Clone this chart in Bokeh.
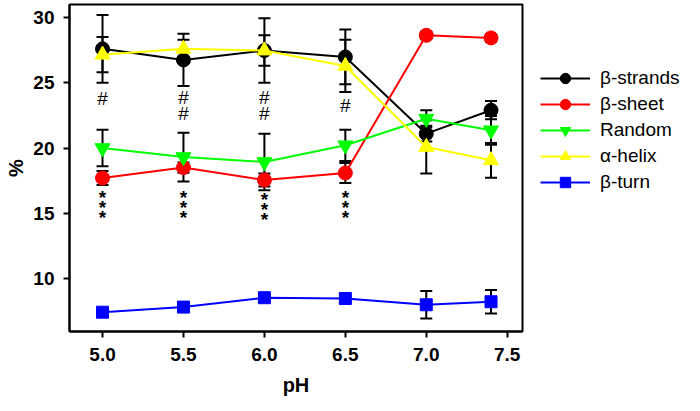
import math
from bokeh.plotting import figure
from bokeh.models import (Range1d, FixedTicker, Whisker, ColumnDataSource, Legend,
                          LegendItem, TeeHead, NumeralTickFormatter)
from bokeh.core.properties import value
from bokeh.embed import file_html
from bokeh.resources import INLINE

# ---- data ----
ph = [5.0, 5.5, 6.0, 6.5, 7.0, 7.4]
strands = [27.6, 26.75, 27.47, 26.98, 21.1, 22.9]
strands_err = [2.6, 2.0, 2.47, 2.1, 0.6, 0.7]
sheet = [17.7, 18.5, 17.55, 18.09, 28.64, 28.44]
sheet_err = [0.54, 0.4, 0.5, 0.77, 0.3, 0.3]
random_coil = [20.0, 19.31, 18.93, 20.21, 22.25, 21.36]
random_err = [1.4, 1.87, 2.17, 1.2, 0.65, 1.1]
helix = [27.15, 27.6, 27.47, 26.29, 20.08, 19.06]
helix_err = [1.35, 0.7, 1.17, 2.0, 2.04, 1.33]
turn = [7.42, 7.81, 8.53, 8.47, 7.99, 8.22]
turn_err = [0.3, 0.3, 0.3, 0.3, 1.05, 0.9]

names = ["β-strands", "β-sheet", "Random", "α-helix", "β-turn"]
colors = ["#000000", "#FF0000", "#00FF00", "#FFFF00", "#0000FF"]
markers = ["circle", "circle", "inverted_triangle", "triangle", "square"]
sizes = [14, 14, 15, 15, 12]

x_ticks = [5.0, 5.5, 6.0, 6.5, 7.0, 7.5]
y_ticks = [10, 15, 20, 25, 30]

hash_x = [5.0, 5.5, 5.5, 6.0, 6.0, 6.5]
hash_y = [23.8, 23.9, 22.65, 23.9, 22.65, 23.27]
star_x = [5.0, 5.0, 5.0, 5.5, 5.5, 5.5, 6.0, 6.0, 6.0, 6.5, 6.5, 6.5]
star_y = [16.5, 15.74, 14.97, 16.5, 15.74, 14.97, 16.37, 15.6, 14.84, 16.5, 15.74, 14.97]

FONT = "Liberation Sans"

p = figure(width=684, height=395, frame_width=453, frame_height=327,
           output_backend="svg", toolbar_location=None,
           x_range=Range1d(4.796, 7.5945), y_range=Range1d(5.94, 31.0),
           min_border_left=69, min_border_right=162, min_border_top=4, min_border_bottom=64)
p.xgrid.visible = False
p.ygrid.visible = False
p.outline_line_color = "black"
p.outline_line_width = 2
p.background_fill_color = "white"
p.border_fill_color = "white"

for ax in (p.xaxis[0], p.yaxis[0]):
    ax.axis_line_width = 2
    ax.axis_line_color = "black"
    ax.major_tick_line_width = 2
    ax.major_tick_line_color = "black"
    ax.major_tick_out = 6
    ax.major_tick_in = 0
    ax.minor_tick_out = 0
    ax.minor_tick_in = 0
    ax.minor_tick_line_color = None
    ax.major_label_text_font = FONT
    ax.major_label_text_font_style = "bold"
    ax.major_label_text_font_size = "19px"
    ax.major_label_text_color = "black"
    ax.axis_label_text_font = FONT
    ax.axis_label_text_font_style = "bold"
    ax.axis_label_text_font_size = "20px"
    ax.axis_label_text_color = "black"
p.xaxis.ticker = FixedTicker(ticks=x_ticks)
p.xaxis.formatter = NumeralTickFormatter(format="0.0")
p.xaxis.major_label_standoff = 10
p.xaxis.axis_label = "pH"
p.xaxis.axis_label_standoff = 10
p.yaxis.ticker = FixedTicker(ticks=y_ticks)
p.yaxis.major_label_standoff = 9
p.yaxis.axis_label = "%"
p.yaxis.axis_label_standoff = 3

series = [strands, sheet, random_coil, helix, turn]
errs = [strands_err, sheet_err, random_err, helix_err, turn_err]
items = []
for name, ys, er, c, m, s in zip(names, series, errs, colors, markers, sizes):
    src = ColumnDataSource(dict(x=ph, y=ys,
                                upper=[a + b for a, b in zip(ys, er)],
                                lower=[a - b for a, b in zip(ys, er)]))
    w = Whisker(source=src, base="x", upper="upper", lower="lower",
                line_color="black", line_width=2,
                upper_head=TeeHead(size=12, line_color="black", line_width=2),
                lower_head=TeeHead(size=12, line_color="black", line_width=2))
    p.add_layout(w)
    ln = p.line("x", "y", source=src, line_color=c, line_width=2)
    sc = p.scatter("x", "y", source=src, marker=m, size=s, fill_color=c, line_color=c)
    items.append(LegendItem(label=name, renderers=[ln, sc]))

p.text(x=hash_x, y=hash_y, text=["#"] * len(hash_x), text_align="center",
       text_baseline="middle", text_font=value(FONT), text_font_size="19px",
       text_color="black")
p.text(x=star_x, y=star_y, text=["*"] * len(star_x), text_align="center",
       text_baseline="middle", text_font=value(FONT), text_font_size="19px",
       text_font_style="bold", text_color="black", y_offset=4)

legend = Legend(items=items, location=(18, 136), label_text_font=FONT,
                label_text_font_size="19px", label_text_color="black",
                label_standoff=10, glyph_width=50,
                glyph_height=26, label_height=26, spacing=0, padding=0, margin=0,
                border_line_alpha=0, background_fill_alpha=0)
p.add_layout(legend, "right")

open("out.html", "w").write(file_html(p, INLINE))
